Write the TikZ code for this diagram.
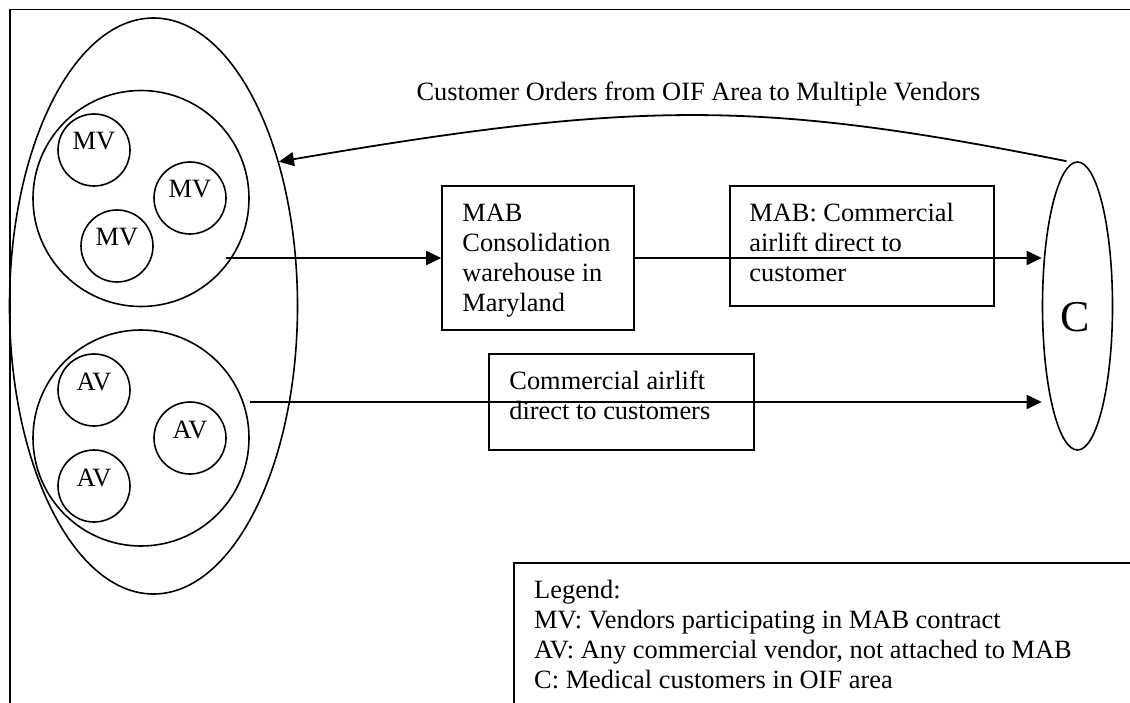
\documentclass[tikz,border=0pt]{standalone}
\usepackage{fontspec}
\setmainfont{Liberation Serif}
\usetikzlibrary{positioning}
\usetikzlibrary{shapes.geometric}
\usetikzlibrary{arrows.meta}
\tikzset{x=1pt, y=-1pt, % One unit is one pixel of the page, y runs downwards
      every node/.style={font=\fontsize{26.4}{30}\selectfont},
      vendor/.style={ % Small circles for single vendors
      circle, draw, line width=1.6pt,
      minimum size=72pt, inner sep=0pt,
      text height=18pt, text depth=18pt},
      group/.style={circle, draw, line width=1.6pt, minimum size=216pt, inner sep=0pt},
      stagebox/.style={rectangle, draw, line width=1.6pt, inner sep=0pt},
      boxtext/.style={anchor=base west, align=left, inner sep=0pt}, % base is the last line
      flow/.style={ % Sets the properties for each shipment
      draw, line width=1.8pt,
      -{Triangle[length=15pt,width=14pt]}}}

\begin{document}
\begin{tikzpicture}
      \useasboundingbox (0,0) rectangle (1130,703);
      \clip (0,0) rectangle (1130,703);
      \draw[line width=1.6pt] (10,720) -- (10,9.5) -- (1140,9.5);

      % vendors
      \node[ellipse, draw, line width=1.6pt, minimum width=288pt, minimum height=576pt, inner sep=0pt] (vendors) at (153.5,306) {};
      \node[group] (mvgroup) at (141,198.5) {};
      \node[group] (avgroup) at (141,438) {};
      \node[vendor] (mv1) at (94,150) {MV};
      \node[vendor] (mv2) at (190,198) {MV};
      \node[vendor] (mv3) at (117,246) {MV};
      \node[vendor] (av1) at (94,390) {AV};
      \node[vendor] (av2) at (190,438) {AV};
      \node[vendor] (av3) at (94,486) {AV};

      % customers
      \node[ellipse, draw, line width=1.6pt, minimum width=70pt, minimum height=288pt, inner sep=0pt] (cust) at (1077.5,306) {};
      \node[anchor=base, font=\fontsize{44}{44}\selectfont] (clabel) at (1075,332) {C};

      % routes
      \node[stagebox, minimum width=192pt, minimum height=144pt] (mab) at (538,258) {};
      \node[boxtext] (mabtext) at ([shift={(21,126)}]mab.north west) {MAB\\Consolidation\\warehouse in\\Maryland};
      \node[stagebox, minimum width=264pt, minimum height=120pt] (air) at (862,246) {};
      \node[boxtext] (airtext) at ([shift={(20,96)}]air.north west) {MAB: Commercial\\airlift direct to\\customer};
      \node[stagebox, minimum width=265pt, minimum height=96pt] (direct) at (621.5,402) {};
      \node[boxtext] (directtext) at ([shift={(21,66)}]direct.north west) {Commercial airlift\\direct to customers};

      \node[anchor=base] (title) at (698.5,101) {Customer Orders from OIF Area to Multiple Vendors};

      % legend
      \node[stagebox, anchor=north west, minimum width=640pt, minimum height=170pt] (legend) at (513,562) {};
      \node[boxtext] (legendtext) at ([shift={(21,126)}]legend.north west) {Legend:\\MV: Vendors participating in MAB contract\\AV: Any commercial vendor, not attached to MAB\\C: Medical customers in OIF area};

      \coordinate (mvout) at (226,258);
      \coordinate (avout) at (250,402);
      \draw[flow] (mvout) -- (mab.west);
      \draw[flow] (mab.east) -- (mab.east -| cust.west);
      \draw[flow] (avout) -- (avout -| cust.west);
      \draw[flow] ([xshift=-11pt]cust.north) .. controls (760,100) and (640,100) .. (vendors.49);
\end{tikzpicture}
\end{document}
